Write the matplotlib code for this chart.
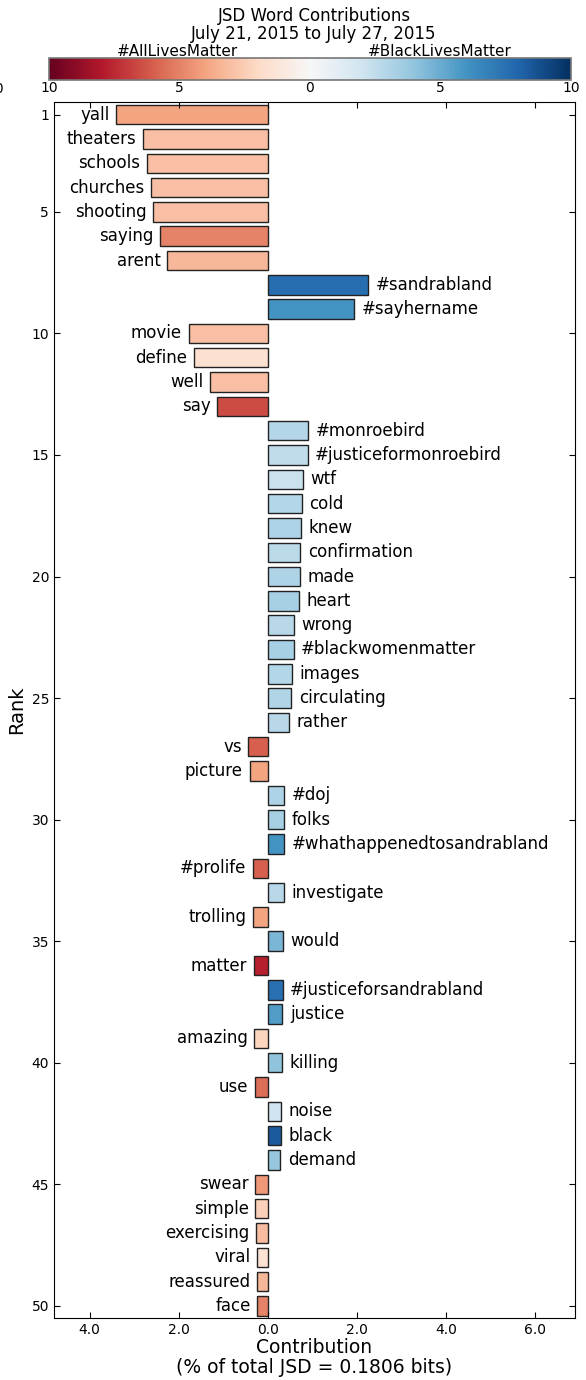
import matplotlib
matplotlib.use('Agg')
import matplotlib.pyplot as plt
import numpy as np
from matplotlib.colors import Normalize
import matplotlib.colorbar as mcolorbar

words = ["yall", "theaters", "schools", "churches", "shooting", "saying", "arent",
         "#sandrabland", "#sayhername", "movie", "define", "well", "say",
         "#monroebird", "#justiceformonroebird", "wtf", "cold", "knew", "confirmation",
         "made", "heart", "wrong", "#blackwomenmatter", "images", "circulating", "rather",
         "vs", "picture", "#doj", "folks", "#whathappenedtosandrabland", "#prolife",
         "investigate", "trolling", "would", "matter", "#justiceforsandrabland", "justice",
         "amazing", "killing", "use", "noise", "black", "demand", "swear", "simple",
         "exercising", "viral", "reassured", "face"]

contrib = [-3.41, -2.81, -2.71, -2.62, -2.57, -2.42, -2.26,
           2.24, 1.93, -1.78, -1.66, -1.30, -1.14,
           0.895, 0.89, 0.78, 0.76, 0.74, 0.73,
           0.72, 0.70, 0.58, 0.575, 0.53, 0.52, 0.47,
           -0.44, -0.41, 0.37, 0.37, 0.37, -0.34,
           0.35, -0.33, 0.33, -0.32, 0.33, 0.32,
           -0.31, 0.31, -0.30, 0.30, 0.30, 0.28, -0.28, -0.28,
           -0.27, -0.24, -0.24, -0.24]

color_vals = [-4.0, -3.0, -3.0, -3.0, -3.0, -5.0, -3.3,
              7.6, 6.0, -3.0, -1.6, -3.0, -6.5,
              2.9, 2.5, 2.2, 2.9, 3.1, 2.7,
              3.1, 3.3, 2.8, 3.3, 2.9, 3.0, 2.8,
              -6.0, -4.0, 3.1, 3.3, 6.0, -6.0,
              2.8, -4.0, 4.6, -7.8, 7.5, 5.6,
              -2.2, 4.0, -5.6, 2.0, 8.4, 3.9, -4.3, -2.4,
              -3.1, -1.5, -3.3, -5.0]

xticks = [-4, -2, 0, 2, 4, 6]
xticklabels = ["4.0", "2.0", "0.0", "2.0", "4.0", "6.0"]
yticks = [1, 5, 10, 15, 20, 25, 30, 35, 40, 45, 50]
cbar_ticks = [-10, -5, 0, 5, 10]
cbar_ticklabels = ["10", "5", "0", "5", "10"]

W, H = 586, 1380
fig = plt.figure(figsize=(W / 100, H / 100), dpi=100)

ax = fig.add_axes([54 / W, 1 - 1318 / H, (575 - 54) / W, (1318 - 102) / H])
cmap = plt.get_cmap('RdBu')
norm = Normalize(-10, 10)
ranks = np.arange(1, len(words) + 1)
ax.barh(ranks, contrib, height=0.8, color=cmap(norm(np.array(color_vals))),
        edgecolor='#222222', linewidth=1.0)
for r, w, c in zip(ranks, words, contrib):
    if c < 0:
        ax.text(c - 0.15, r, w, ha='right', va='center', fontsize=12)
    else:
        ax.text(c + 0.17, r, w, ha='left', va='center', fontsize=12)

ax.set_xlim(-4.8, 6.89)
ax.set_ylim(50.5, 0.48)
ax.set_xticks(xticks)
ax.set_xticklabels(xticklabels)
ax.set_yticks(yticks)
ax.tick_params(direction='in', top=True, right=True, labelsize=10, length=4)
ax.set_xlabel('Contribution\n(% of total JSD = 0.1806 bits)', fontsize=13.5,
              labelpad=1, linespacing=1.05)
ax.set_ylabel('Rank', fontsize=14)

cax = fig.add_axes([49 / W, 1 - 80 / H, (571 - 49) / W, 22 / H])
cb = mcolorbar.ColorbarBase(cax, cmap=cmap, norm=norm, orientation='horizontal')
cb.set_ticks(cbar_ticks)
cb.set_ticklabels(cbar_ticklabels)
cax.tick_params(length=0, labelsize=10, pad=1)
cb.outline.set_edgecolor('#777777')
cb.outline.set_linewidth(1.2)

fig.text(314 / W, 1 - 16 / H, 'JSD Word Contributions', ha='center', va='center', fontsize=12)
fig.text(314 / W, 1 - 34 / H, 'July 21, 2015 to July 27, 2015', ha='center', va='center', fontsize=12)
fig.text(178 / W, 1 - 52 / H, '#AllLivesMatter', ha='center', va='center', fontsize=11)
fig.text(440 / W, 1 - 52 / H, '#BlackLivesMatter', ha='center', va='center', fontsize=11)
fig.text(4 / W, 1 - 89 / H, '10', ha='right', va='center', fontsize=10)

fig.savefig('out.png', dpi=100)
